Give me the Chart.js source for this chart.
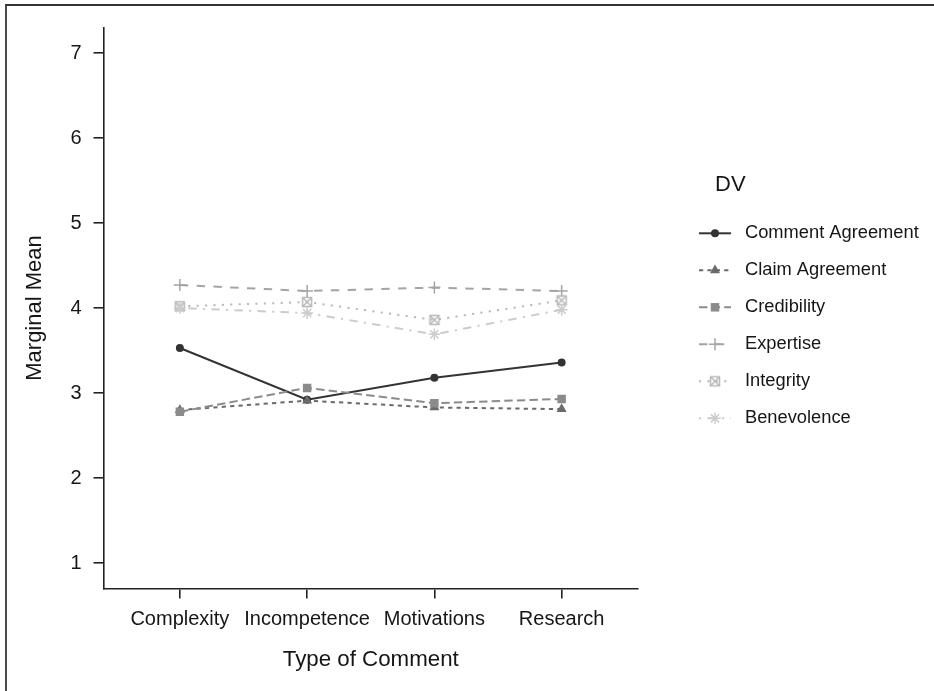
<!DOCTYPE html>
<html>
<head>
<meta charset="utf-8">
<script src="https://cdn.jsdelivr.net/npm/chart.js@4.4.0/dist/chart.umd.min.js"></script>
<style>
  html, body { margin: 0; padding: 0; background: #ffffff; }
  #wrap { position: relative; width: 934px; height: 691px; overflow: hidden; }
  #frame { position: absolute; left: 5px; top: 4px; width: 960px; height: 720px;
           border-top: 2px solid #333333; border-left: 2px solid #4a4a4a; pointer-events: none; }
  canvas { display: block; }
</style>
</head>
<body>
<div id="wrap">
  <canvas id="chart" width="934" height="691" style="width:934px;height:691px"></canvas>
  <div id="frame"></div>
</div>
<script>
// Marginal means by type of comment, one array per dependent variable
const categories = ['Complexity', 'Incompetence', 'Motivations', 'Research'];
const commentAgreement = [3.53, 2.92, 3.18, 3.36];
const claimAgreement   = [2.80, 2.91, 2.83, 2.81];
const credibility      = [2.78, 3.06, 2.88, 2.93];
const expertise        = [4.27, 4.20, 4.24, 4.20];
const integrity        = [4.02, 4.07, 3.86, 4.09];
const benevolence      = [4.00, 3.94, 3.69, 3.98];
const seriesNames = ['Comment Agreement', 'Claim Agreement', 'Credibility', 'Expertise', 'Integrity', 'Benevolence'];
const yTicks = [1, 2, 3, 4, 5, 6, 7];

const FONT = '"Liberation Sans", Arial, Helvetica, sans-serif';
const TEXT = '#161616';
const AXIS = '#222222';
const greys = ['#333333', '#6A6A6A', '#8B8B8B', '#A4A4A4', '#B9B9B9', '#CCCCCC'];
const U = 2.1; // dash unit (px)
const dashes = [[], [2*U, 2*U], [4*U, 2*U], [4*U, 4*U], [1*U, 3*U], [1*U, 3*U, 4*U, 3*U]];

// open square with an X inside
function squareCross(color) {
  const c = document.createElement('canvas');
  c.width = 14; c.height = 14;
  const g = c.getContext('2d');
  g.strokeStyle = color; g.lineWidth = 1.5;
  g.strokeRect(2.5, 2.5, 9, 9);
  g.beginPath();
  g.moveTo(2.5, 2.5); g.lineTo(11.5, 11.5);
  g.moveTo(11.5, 2.5); g.lineTo(2.5, 11.5);
  g.stroke();
  return c;
}

const markers = [
  { pointStyle: 'circle',   radius: 4.0, filled: true },
  { pointStyle: 'triangle', radius: 5.8, filled: true },
  { pointStyle: 'rect',     radius: 6.0, filled: true },
  { pointStyle: 'cross',    radius: 6.0, filled: false },
  { pointStyle: squareCross(greys[4]), radius: 7, filled: false },
  { pointStyle: 'star',     radius: 5.8, filled: false }
];

const seriesValues = [commentAgreement, claimAgreement, credibility, expertise, integrity, benevolence];

const datasets = seriesNames.map((name, k) => ({
  label: name,
  data: categories.map((c, i) => ({ x: i, y: seriesValues[k][i] })),
  borderColor: greys[k],
  backgroundColor: greys[k],
  borderWidth: 2,
  borderDash: dashes[k],
  borderCapStyle: 'butt',
  pointStyle: markers[k].pointStyle,
  pointRadius: markers[k].radius,
  pointBackgroundColor: greys[k],
  pointBorderColor: greys[k],
  pointBorderWidth: markers[k].filled ? 0 : 1.5,
  tension: 0,
  fill: false,
  order: seriesNames.length - k
}));

// legend drawn at the right of the panel: line sample, marker, label
const dvLegend = {
  id: 'dvLegend',
  afterDraw(chart) {
    const ctx = chart.ctx;
    ctx.save();
    ctx.fillStyle = TEXT;
    ctx.textAlign = 'left';
    ctx.textBaseline = 'middle';
    ctx.font = '22px ' + FONT;
    ctx.fillText('DV', 715, 185);
    ctx.font = '18.3px ' + FONT;
    datasets.forEach((ds, k) => {
      const y = 233.3 + k * 37;
      ctx.strokeStyle = ds.borderColor;
      ctx.lineWidth = ds.borderWidth;
      ctx.lineCap = 'butt';
      ctx.setLineDash(ds.borderDash);
      ctx.beginPath();
      ctx.moveTo(699, y);
      ctx.lineTo(731, y);
      ctx.stroke();
      ctx.setLineDash([]);
      ctx.fillStyle = ds.pointBackgroundColor;
      ctx.strokeStyle = ds.pointBorderColor;
      ctx.lineWidth = ds.pointBorderWidth;
      Chart.helpers.drawPoint(ctx, {
        pointStyle: ds.pointStyle, radius: ds.pointRadius, rotation: 0, borderWidth: ds.pointBorderWidth
      }, 715, y);
      ctx.fillStyle = TEXT;
      ctx.fillText(ds.label, 745, y);
    });
    ctx.restore();
  }
};

new Chart(document.getElementById('chart'), {
  type: 'line',
  data: { datasets },
  plugins: [dvLegend],
  options: {
    responsive: false,
    animation: false,
    devicePixelRatio: 1,
    events: [],
    layout: { padding: { left: 0, top: 27.5, right: 296, bottom: 0 } },
    plugins: { legend: { display: false }, tooltip: { enabled: false } },
    scales: {
      x: {
        type: 'linear',
        min: -0.6,
        max: 3.6,
        afterBuildTicks: s => { s.ticks = categories.map((c, i) => ({ value: i })); },
        afterFit: s => { s.height = 102.5; },
        grid: { display: true, drawOnChartArea: false, drawTicks: true, tickLength: 10, color: AXIS, lineWidth: 1.6 },
        border: { display: true, color: AXIS, width: 1.6 },
        ticks: { callback: v => categories[v], font: { size: 20, family: FONT }, color: TEXT, padding: 9, maxRotation: 0, autoSkip: false },
        title: { display: true, text: 'Type of Comment', font: { size: 22.3, family: FONT }, color: TEXT, padding: { top: 0, bottom: 18 } }
      },
      y: {
        type: 'linear',
        min: 0.7,
        max: 7.3,
        afterBuildTicks: s => { s.ticks = yTicks.map(v => ({ value: v })); },
        afterFit: s => { s.width = 103.5; },
        grid: { display: true, drawOnChartArea: false, drawTicks: true, tickLength: 10, color: AXIS, lineWidth: 1.6 },
        border: { display: true, color: AXIS, width: 1.6 },
        ticks: { font: { size: 20, family: FONT }, color: TEXT, padding: 12 },
        title: { display: true, text: 'Marginal Mean', font: { size: 22, family: FONT }, color: TEXT, padding: { top: 22, bottom: 0 } }
      }
    }
  }
});
</script>
</body>
</html>
